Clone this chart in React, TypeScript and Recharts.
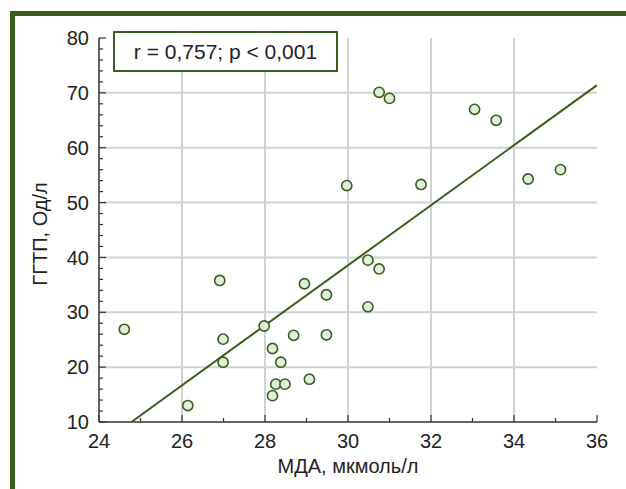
import React from 'react';
import { ScatterChart, Scatter, XAxis, YAxis, CartesianGrid } from 'recharts';

// МДА, мкмоль/л (x) and ГГТП, Од/л (y)
const mdaValues = [
  24.61, 26.14, 26.91, 26.99, 26.99, 27.98, 28.18, 28.18, 28.26, 28.48, 28.38,
  28.69, 29.07, 28.95, 29.48, 29.48, 30.48, 30.75, 30.48, 30.75, 31.0, 33.05,
  33.57, 29.97, 31.76, 34.34, 35.12,
];
const ggtpValues = [
  26.9, 13.0, 35.8, 25.1, 20.9, 27.5, 23.4, 14.8, 16.9, 16.9, 20.9,
  25.8, 17.8, 35.2, 33.2, 25.9, 39.5, 37.9, 31.0, 70.1, 69.0, 67.0,
  65.0, 53.1, 53.3, 54.3, 56.0,
];
// regression line end points
const trendX = [24.78, 36];
const trendY = [10, 71.4];

const xTicks = [24, 25, 26, 27, 28, 29, 30, 31, 32, 33, 34, 35, 36];
const yTicks = [10, 12, 14, 16, 18, 20, 22, 24, 26, 28, 30, 32, 34, 36, 38, 40, 42, 44, 46, 48, 50, 52, 54, 56, 58, 60, 62, 64, 66, 68, 70, 72, 74, 76, 78, 80];
const xGrid = [26, 28, 30, 32, 34];
const yGrid = [20, 30, 40, 50, 60, 70];

const xTitle = 'МДА, мкмоль/л';
const yTitle = 'ГГТП, Од/л';
const annotation = 'r = 0,757; p < 0,001';

const points = mdaValues.map((x, i) => ({ x, y: ggtpValues[i] }));
const trend = trendX.map((x, i) => ({ x, y: trendY[i] }));

const FONT = '"Liberation Sans", Arial, Helvetica, sans-serif';
const GREEN = '#3b5e1e';
const TEXT = '#222';

const YTick = (props: any) => {
  const { x, y, payload } = props;
  const major = payload.value % 10 === 0;
  return (
    <g>
      <line x1={x} x2={x + (major ? 7 : 4)} y1={y} y2={y} stroke="#333" strokeWidth={1.2} />
      {major && (
        <text x={x - 10} y={y} dy={7.2} textAnchor="end" fontSize={20} fontFamily={FONT} fill={TEXT}>
          {payload.value}
        </text>
      )}
    </g>
  );
};

const XTick = (props: any) => {
  const { x, y, payload } = props;
  const major = payload.value % 2 === 0;
  return (
    <g>
      <line x1={x} x2={x} y1={y} y2={y - (major ? 7 : 4)} stroke="#333" strokeWidth={1.2} />
      {major && (
        <text x={x} y={y + 26} textAnchor="middle" fontSize={20} fontFamily={FONT} fill={TEXT}>
          {payload.value}
        </text>
      )}
    </g>
  );
};

const YTitle = (props: any) => {
  const vb = props.viewBox;
  const cx = vb.x + 47;
  const cy = vb.y + vb.height / 2 + 4;
  return (
    <text
      transform={`translate(${cx},${cy}) rotate(-90)`}
      textAnchor="middle"
      fontSize={20}
      fontFamily={FONT}
      fill={TEXT}
    >
      {yTitle}
    </text>
  );
};

const Dot = (props: any) => (
  <circle cx={props.cx} cy={props.cy} r={5.1} fill="#dfefdb" stroke={GREEN} strokeWidth={1.6} />
);

export default function App() {
  return (
    <div style={{ position: 'absolute', left: 0, top: 0, width: 626, height: 489, overflow: 'hidden', background: '#fff' }}>
      <div
        style={{
          position: 'absolute',
          left: 10,
          top: 11,
          width: 616,
          height: 478,
          borderTop: `5px solid ${GREEN}`,
          borderLeft: `5px solid ${GREEN}`,
          boxSizing: 'border-box',
        }}
      />
      <div style={{ position: 'absolute', left: 0, top: 0 }}>
        <ScatterChart width={626} height={489} margin={{ top: 38, right: 29, bottom: 0, left: 0 }}>
          <CartesianGrid
            horizontalValues={yGrid}
            verticalValues={xGrid}
            stroke="#d2d2d2"
            strokeWidth={2}
          />
          <XAxis
            type="number"
            dataKey="x"
            domain={[24, 36]}
            ticks={xTicks}
            interval={0}
            allowDataOverflow
            height={67}
            tickSize={0}
            tickMargin={0}
            tick={<XTick />}
            tickLine={false}
            axisLine={{ stroke: '#333', strokeWidth: 1.5 }}
            label={{ value: xTitle, position: 'insideBottom', offset: 16, fontSize: 20, fontFamily: FONT, fill: TEXT }}
          />
          <XAxis
            xAxisId="top"
            orientation="top"
            type="number"
            domain={[24, 36]}
            height={0}
            tick={false}
            tickLine={false}
            axisLine={{ stroke: '#555', strokeWidth: 2 }}
          />
          <YAxis
            type="number"
            dataKey="y"
            domain={[10, 80]}
            ticks={yTicks}
            interval={0}
            allowDataOverflow
            width={99}
            tickSize={0}
            tickMargin={0}
            tick={<YTick />}
            tickLine={false}
            axisLine={{ stroke: '#333', strokeWidth: 1.5 }}
            label={{ content: <YTitle /> }}
          />
          <YAxis
            yAxisId="right"
            orientation="right"
            type="number"
            domain={[10, 80]}
            width={0}
            tick={false}
            tickLine={false}
            axisLine={{ stroke: '#555', strokeWidth: 2 }}
          />
          <Scatter
            data={trend}
            line={{ stroke: GREEN, strokeWidth: 2 }}
            shape={() => <g />}
            isAnimationActive={false}
            legendType="none"
          />
          <Scatter data={points} shape={<Dot />} isAnimationActive={false} />
        </ScatterChart>
      </div>
      <div
        style={{
          position: 'absolute',
          left: 113,
          top: 31,
          width: 225,
          height: 41,
          boxSizing: 'border-box',
          border: `2px solid ${GREEN}`,
          background: '#fff',
          fontFamily: FONT,
          fontSize: 21,
          color: TEXT,
          textAlign: 'center',
          lineHeight: '38px',
          whiteSpace: 'nowrap',
        }}
      >
        {annotation}
      </div>
    </div>
  );
}
